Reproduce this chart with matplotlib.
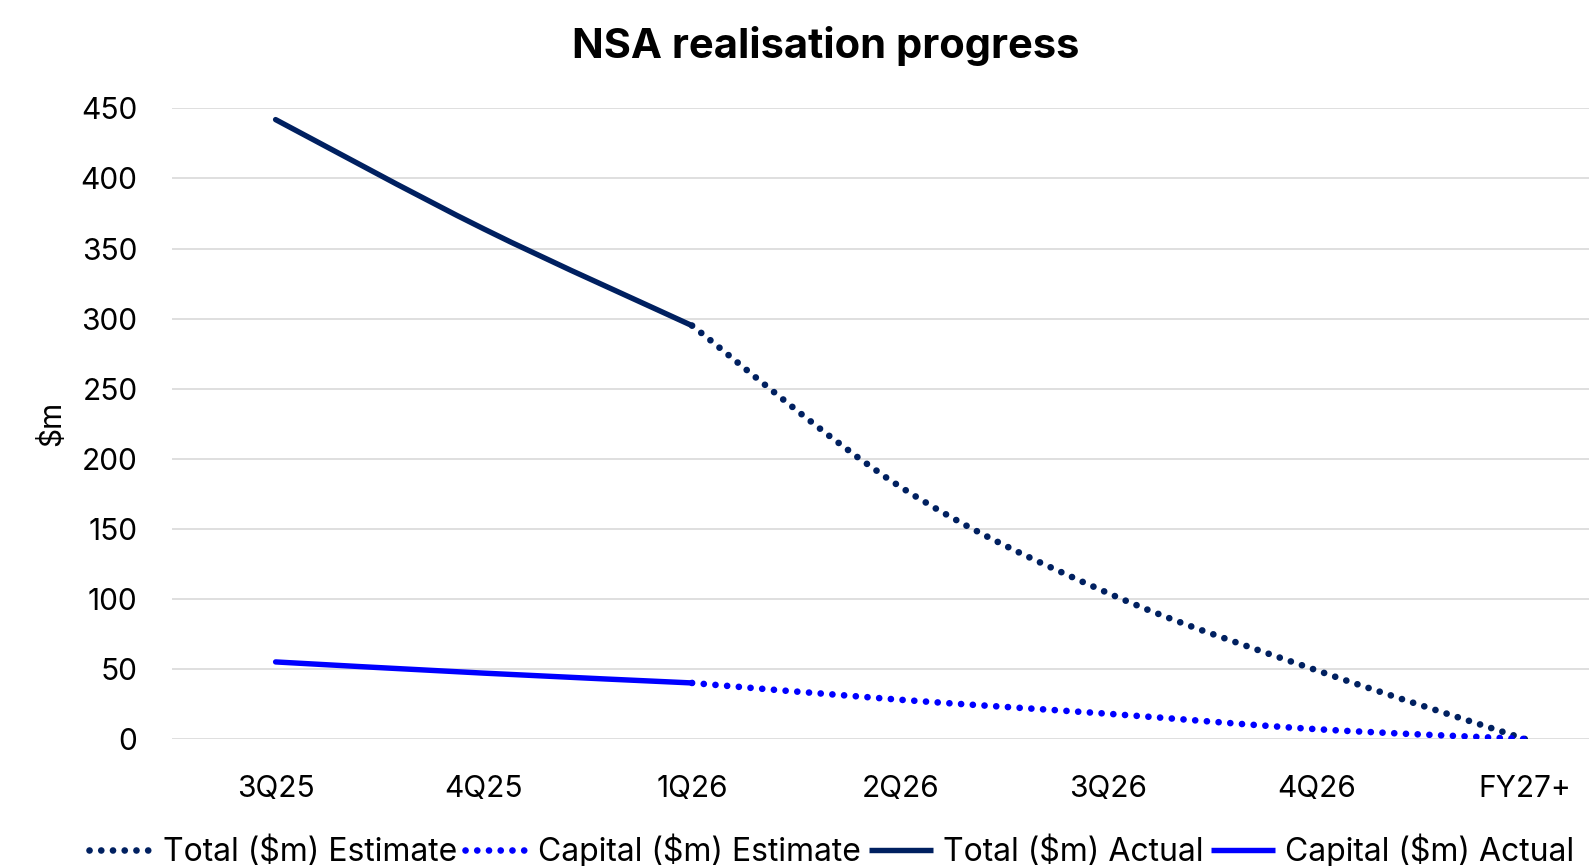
import matplotlib
matplotlib.use("Agg")
import matplotlib.pyplot as plt
from matplotlib.path import Path
from matplotlib.patches import PathPatch
from matplotlib.lines import Line2D

plt.rcParams["font.family"] = ["Inter", "DejaVu Sans"]

categories = ["3Q25", "4Q25", "1Q26", "2Q26", "3Q26", "4Q26", "FY27+"]

# actuals cover 3Q25..1Q26, estimates 1Q26..FY27+
total_actual = [442, 364, 295]
capital_actual = [55, 47, 40]
total_estimate = [295, 180, 104, 49, 0]
capital_estimate = [40, 28, 18, 7, 0]

navy = "#002060"
blue = "#0000FF"
grid_col = "#D9D9D9"


def smooth_path(xs, ys):
    # Excel-style smoothed line: Catmull-Rom turned into cubic bezier segments
    pts = list(zip(xs, ys))
    n = len(pts)
    verts = [pts[0]]
    codes = [Path.MOVETO]
    for i in range(n - 1):
        p0 = pts[max(i - 1, 0)]
        p1 = pts[i]
        p2 = pts[i + 1]
        p3 = pts[min(i + 2, n - 1)]
        c1 = (p1[0] + (p2[0] - p0[0]) / 6, p1[1] + (p2[1] - p0[1]) / 6)
        c2 = (p2[0] - (p3[0] - p1[0]) / 6, p2[1] - (p3[1] - p1[1]) / 6)
        verts += [c1, c2, p2]
        codes += [Path.CURVE4] * 3
    return Path(verts, codes)


fig = plt.figure(figsize=(15.89, 8.66), dpi=100)
ax = fig.add_axes([171.5 / 1589, 1 - 739 / 866, 1457.5 / 1589, (739 - 108.4) / 866])

dotted = (0, (0.01, 1.75))
lw_dot = 4.8
lw_solid = 3.9

x_act = range(0, len(total_actual))
x_est = range(len(total_actual) - 1, len(categories))

series = [
    (x_est, total_estimate, navy, dotted, lw_dot, "Total ($m) Estimate"),
    (x_est, capital_estimate, blue, dotted, lw_dot, "Capital ($m) Estimate"),
    (x_act, total_actual, navy, "-", lw_solid, "Total ($m) Actual"),
    (x_act, capital_actual, blue, "-", lw_solid, "Capital ($m) Actual"),
]

handles = []
for xs, ys, col, ls, lw, lab in series:
    patch = PathPatch(smooth_path(list(xs), ys), fill=False, edgecolor=col,
                      linestyle=ls, linewidth=lw, capstyle="round", zorder=3)
    ax.add_patch(patch)
    handles.append(Line2D([], [], color=col, linestyle=ls, linewidth=lw,
                          dash_capstyle="round", solid_capstyle="butt", label=lab))

ax.set_xlim(-0.5, len(categories) - 0.5)
ax.set_ylim(0, 450)
ax.set_yticks(range(0, 451, 50))
ax.set_xticks(range(len(categories)))
ax.set_xticklabels(categories)
ax.yaxis.grid(True, color=grid_col, linewidth=1.2)
ax.set_axisbelow(True)
for s in ax.spines.values():
    s.set_visible(False)
ax.tick_params(axis="both", length=0, labelsize=21.5, colors="black")
ax.tick_params(axis="y", pad=24.5)
ax.tick_params(axis="x", pad=26)

fig.text(52 / 1589, 1 - 423 / 866, "$m", rotation=90, ha="center", va="center",
         fontsize=21.5)
fig.text(826 / 1589, 1 - 46 / 866, "NSA realisation progress", ha="center",
         va="center", fontsize=30, fontweight="bold")

fig.legend(handles=handles, loc="center", bbox_to_anchor=(831.5 / 1589, 1 - 851 / 866),
           ncol=4, frameon=False, fontsize=23, handlelength=2.0,
           handletextpad=0.3, columnspacing=0.25, borderpad=0, borderaxespad=0)

fig.savefig("out.png", dpi=100)
